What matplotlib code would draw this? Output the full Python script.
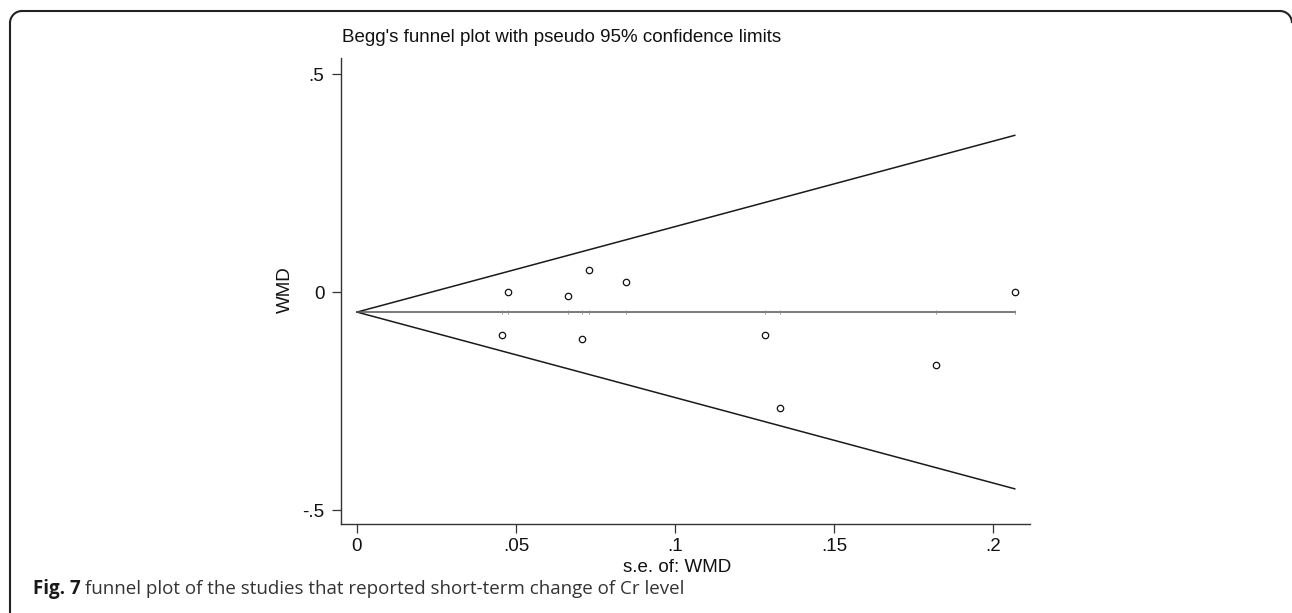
import matplotlib
matplotlib.use("Agg")
import matplotlib.pyplot as plt
from matplotlib.patches import Arc
from matplotlib.lines import Line2D
from matplotlib.transforms import IdentityTransform

# standard errors and effect sizes (WMD)
se = [0.0456, 0.0475, 0.0664, 0.0708, 0.0730, 0.0846, 0.1283, 0.1330, 0.1820, 0.2068]
wmd = [-0.099, 0.000, -0.009, -0.108, 0.050, 0.023, -0.099, -0.266, -0.168, 0.000]
pooled = -0.046
se_max = 0.2068

xticks = [0, 0.05, 0.1, 0.15, 0.2]
xticklabels = ['0', '.05', '.1', '.15', '.2']
yticks = [-0.5, 0, 0.5]
yticklabels = ['-.5', '0', '.5']

W, H = 1292, 613
fig = plt.figure(figsize=(W / 100, H / 100), dpi=100)
plt.rcParams['font.family'] = ['Liberation Sans', 'DejaVu Sans']

# rounded frame (pixel coords, origin bottom-left); right and bottom run off the crop
r = 12
top = H - 11
fc = '#222222'
fw = 1.5
px = IdentityTransform()
fig.lines.append(Line2D([10 + r, 1280], [top, top], color=fc, lw=fw, transform=px))
fig.lines.append(Line2D([10, 10], [top - r, -5], color=fc, lw=fw, transform=px))
fig.patches.append(Arc((10 + r, top - r), 2 * r, 2 * r, theta1=90, theta2=180,
                       color=fc, lw=fw, transform=px))
fig.patches.append(Arc((1280, top - r), 2 * r, 2 * r, theta1=0, theta2=90,
                       color=fc, lw=fw, transform=px))

ax = fig.add_axes([341 / W, 1 - 524 / H, (1030 - 341) / W, (524 - 58) / H])
ax.set_xlim(-0.00503, 0.2116)
ax.set_ylim(-0.532, 0.5367)

# pseudo 95% confidence limits
xs = [0, se_max]
ax.plot(xs, [pooled, pooled + 1.96 * se_max], color='#1a1a1a', lw=1.1)
ax.plot(xs, [pooled, pooled - 1.96 * se_max], color='#1a1a1a', lw=1.1)
ax.plot(xs, [pooled, pooled], color='#555555', lw=1.1)
ax.plot(se, [pooled] * len(se), linestyle='none', marker='|',
        markersize=3, color='#888888', markeredgewidth=0.6)

ax.plot(se, wmd, linestyle='none', marker='o', markersize=4.6,
        markerfacecolor='white', markeredgecolor='#111111', markeredgewidth=0.9)

for s in ['top', 'right']:
    ax.spines[s].set_visible(False)
for s in ['left', 'bottom']:
    ax.spines[s].set_color('#333333')
    ax.spines[s].set_linewidth(1.0)

ax.set_xticks(xticks)
ax.set_xticklabels(xticklabels)
ax.set_yticks(yticks)
ax.set_yticklabels(yticklabels)
ax.tick_params(axis='both', direction='out', length=6.5, width=0.9,
               color='#333333', labelsize=13.5, labelcolor='#111111')
ax.tick_params(axis='x', pad=3.5)
ax.tick_params(axis='y', pad=5.5)

fig.text(677 / W, 1 - 568 / H, 's.e. of: WMD', ha='center', va='center',
         fontsize=13.5, color='#111111')
fig.text(285 / W, 1 - 290 / H, 'WMD', ha='center', va='center',
         rotation=90, fontsize=13.5, color='#111111')
fig.text(342 / W, 1 - 42 / H, "Begg's funnel plot with pseudo 95% confidence limits",
         ha='left', va='baseline', fontsize=13.5, color='#111111')

# caption
cap_y = 1 - 594 / H
t1 = fig.text(33 / W, cap_y, 'Fig. 7', ha='left', va='baseline',
              fontsize=13.5, fontweight='bold', family='Open Sans', color='#1a1a1a')
fig.canvas.draw()
bb = t1.get_window_extent(renderer=fig.canvas.get_renderer())
fig.text((bb.x1 + 4) / W, cap_y,
         'funnel plot of the studies that reported short-term change of Cr level',
         ha='left', va='baseline', fontsize=13.5, family='Open Sans', color='#333333')

fig.savefig('out.png', dpi=100)
